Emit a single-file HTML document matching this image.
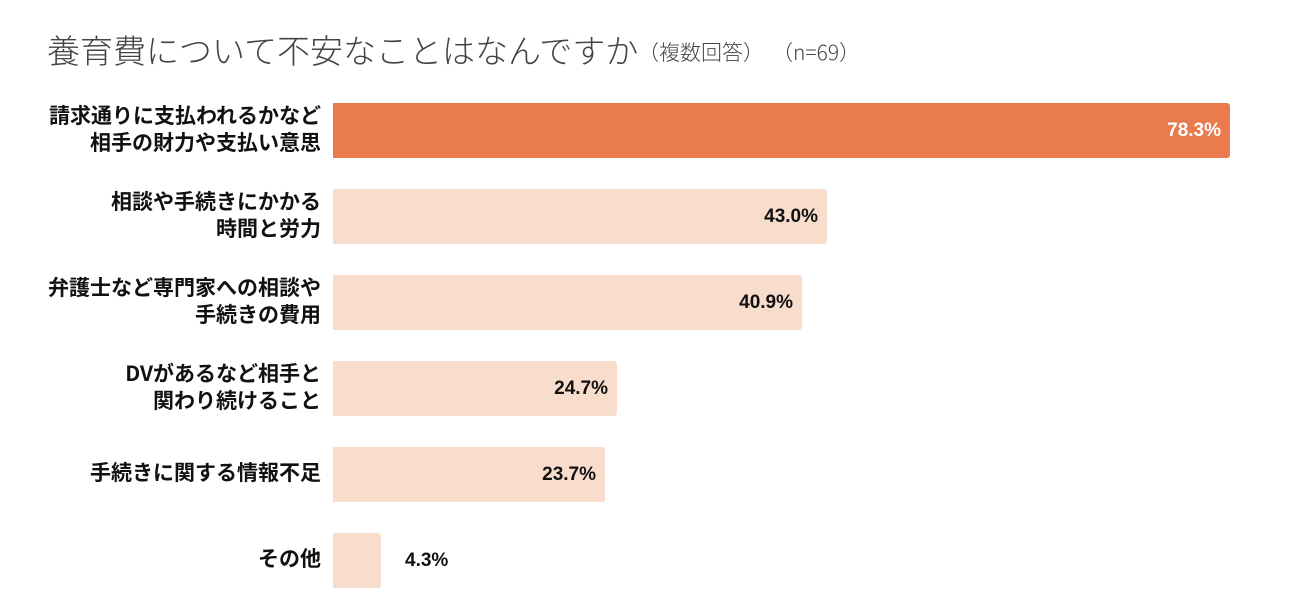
<!DOCTYPE html>
<html><head><meta charset="utf-8"><style>
body{margin:0;width:1304px;height:608px;background:#fff;position:relative;font-family:"Liberation Sans","Noto Sans CJK JP",sans-serif;overflow:hidden}
.t{position:absolute;left:47px;top:25px;font-size:33px;color:#444;white-space:nowrap;font-family:"Noto Sans CJK JP",sans-serif;font-weight:300}
.s{position:absolute;top:37px;font-size:21px;color:#444;white-space:nowrap;font-family:"Noto Sans CJK JP",sans-serif;font-weight:300}
.lab{position:absolute;right:983px;text-align:right;font-size:21px;font-weight:bold;color:#111;line-height:27px;white-space:nowrap;font-family:"Noto Sans CJK JP",sans-serif}
.bar{position:absolute;left:333px;height:55px;background:#f8dccc;border-radius:0 3px 3px 0}
.v{position:absolute;font-size:19px;font-weight:bold;color:#111;text-align:right;line-height:55px}
</style></head><body>
<div class="t">養育費について不安なことはなんですか</div>
<div class="s" style="left:638px">（複数回答）</div>
<div class="s" style="left:772px">（n=69）</div>

<div class="bar" style="top:103px;width:897px;background:#e97b4e"></div>
<div class="v" style="top:103px;right:83px;color:#fff">78.3%</div>
<div class="lab" style="top:102px">請求通りに支払われるかなど<br>相手の財力や支払い意思</div>

<div class="bar" style="top:189px;width:494px"></div>
<div class="v" style="top:189px;right:486px">43.0%</div>
<div class="lab" style="top:188px">相談や手続きにかかる<br>時間と労力</div>

<div class="bar" style="top:275px;width:469px"></div>
<div class="v" style="top:275px;right:511px">40.9%</div>
<div class="lab" style="top:274px">弁護士など専門家への相談や<br>手続きの費用</div>

<div class="bar" style="top:361px;width:284px"></div>
<div class="v" style="top:361px;right:696px">24.7%</div>
<div class="lab" style="top:360px">DVがあるなど相手と<br>関わり続けること</div>

<div class="bar" style="top:447px;width:272px"></div>
<div class="v" style="top:447px;right:708px">23.7%</div>
<div class="lab" style="top:459px">手続きに関する情報不足</div>

<div class="bar" style="top:533px;width:48px"></div>
<div class="v" style="top:533px;left:405px;text-align:left">4.3%</div>
<div class="lab" style="top:545px">その他</div>
</body></html>
